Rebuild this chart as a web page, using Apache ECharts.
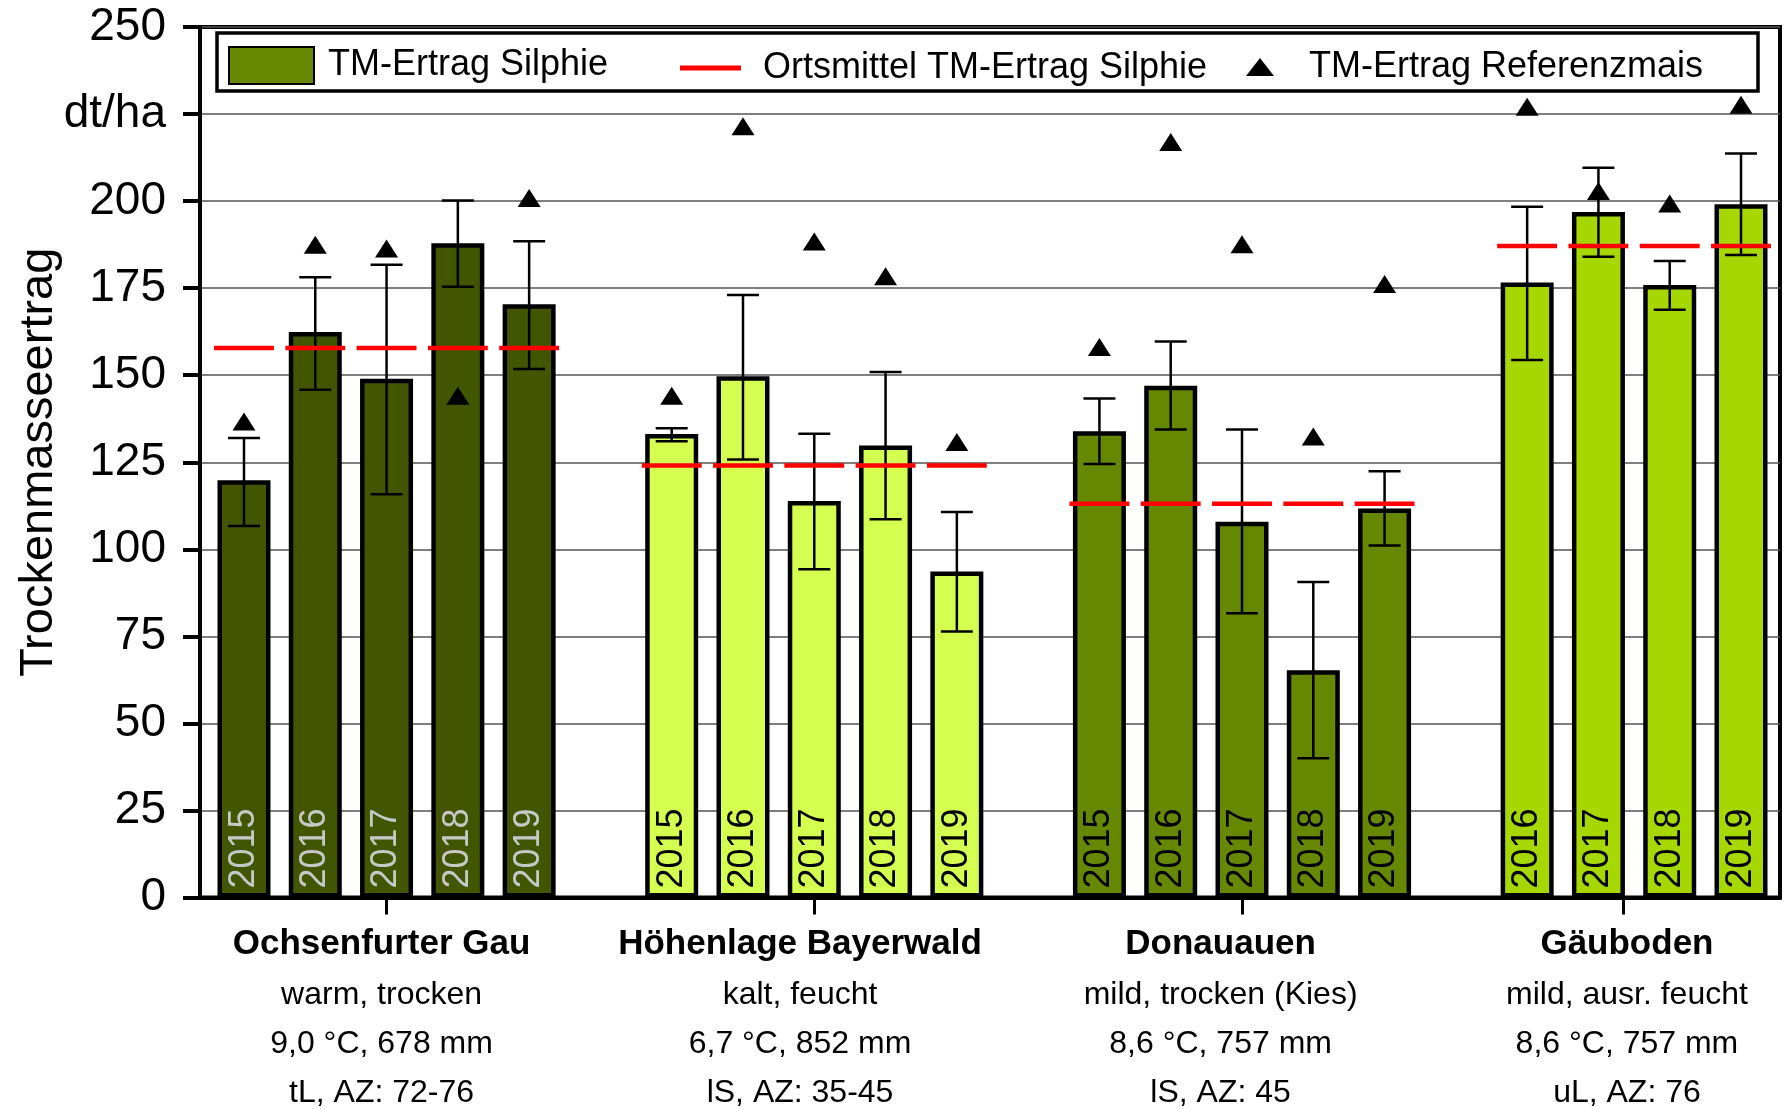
<!DOCTYPE html>
<html>
<head>
<meta charset="utf-8">
<script src="https://cdn.jsdelivr.net/npm/echarts@6/dist/echarts.min.js"></script>
<style>
  html, body { margin: 0; padding: 0; background: #fff; }
  #chart { width: 1786px; height: 1109px; }
</style>
</head>
<body>
<div id="chart"></div>
<script>
// Standorte und Beschriftung
var standorte = ['Ochsenfurter Gau', 'Höhenlage Bayerwald', 'Donauauen', 'Gäuboden'];
var klima = ['warm, trocken', 'kalt, feucht', 'mild, trocken (Kies)', 'mild, ausr. feucht'];
var wetter = ['9,0 °C, 678 mm', '6,7 °C, 852 mm', '8,6 °C, 757 mm', '8,6 °C, 757 mm'];
var boden = ['tL, AZ: 72-76', 'lS, AZ: 35-45', 'lS, AZ: 45', 'uL, AZ: 76'];

var jahre = [
    [2015, 2016, 2017, 2018, 2019],
    [2015, 2016, 2017, 2018, 2019],
    [2015, 2016, 2017, 2018, 2019],
    [2016, 2017, 2018, 2019]
];

// TM-Ertrag Silphie (dt/ha)
var silphie = [
    [119.8, 162.4, 149.0, 187.9, 170.4],
    [133.1, 149.7, 113.9, 129.8, 93.6],
    [133.9, 147.0, 107.9, 65.3, 111.7],
    [176.6, 196.9, 175.9, 199.1]
];
// Fehlerbalken
var fehlerUnten = [
    [106.7, 145.8, 115.8, 175.4, 151.8],
    [131.0, 125.8, 94.3, 108.6, 76.4],
    [124.5, 134.4, 81.6, 40.0, 101.1],
    [154.4, 184.0, 168.8, 184.5]
];
var fehlerOben = [
    [132.0, 178.1, 181.7, 200.2, 188.5],
    [134.8, 173.0, 133.2, 150.9, 110.7],
    [143.3, 159.7, 134.4, 90.6, 122.4],
    [198.4, 209.6, 182.8, 213.7]
];
// TM-Ertrag Referenzmais
var mais = [
    [136.7, 187.5, 186.4, 144.1, 200.9],
    [144.1, 221.5, 188.4, 178.4, 130.8],
    [158.1, 217.0, 187.6, 132.4, 176.2],
    [227.1, 202.9, 199.3, 227.7]
];
// Ortsmittel TM-Ertrag Silphie
var ortsmittel = [157.8, 124.1, 113.1, 187.1];

var barColors = ['#445500', '#d4ff50', '#668800', '#a6d800'];
var yearColors = ['#c8c8c8', '#000', '#000', '#000'];
var font = '"Liberation Sans", Arial, sans-serif';

// Positionen: jede Gruppe nebeneinander, eine Lücke dazwischen
var barData = [], errData = [], meanData = [], maisData = [], yearLabels = [];
var pos = 0;
standorte.forEach(function (s, g) {
    silphie[g].forEach(function (v, j) {
        barData.push({ value: [pos, v], itemStyle: { color: barColors[g] }, label: { color: yearColors[g] } });
        errData.push([pos, fehlerUnten[g][j], fehlerOben[g][j]]);
        meanData.push([pos, ortsmittel[g]]);
        maisData.push([pos, mais[g][j]]);
        yearLabels.push(jahre[g][j]);
        pos++;
    });
    pos++;
});

var tickPos = [2, 8, 14, 19.35];
var labelPos = [1.93, 7.8, 13.7, 19.4];

var myChart = echarts.init(document.getElementById('chart'), null, { renderer: 'canvas' });

var option = {
    animation: false,
    textStyle: { fontFamily: font },
    grid: {
        left: 200, right: 6, top: 27, bottom: 209,
        show: true, borderColor: '#000', borderWidth: 4
    },
    graphic: [{
        type: 'rect',
        shape: { x: 217, y: 33, width: 1541, height: 58 },
        style: { fill: '#fff', stroke: '#000', lineWidth: 3.5 },
        z: 90
    }],
    legend: [
        {
            data: [{ name: 'TM-Ertrag Silphie', icon: 'rect' }],
            left: 228, top: 46, padding: 0,
            itemWidth: 85, itemHeight: 37,
            textStyle: { fontSize: 36, color: '#000', fontFamily: font, padding: [0, 0, 0, 9] },
            z: 100
        },
        {
            data: [{ name: 'Ortsmittel TM-Ertrag Silphie', icon: 'rect' }],
            left: 680, top: 50, padding: 0,
            itemWidth: 61, itemHeight: 5,
            textStyle: { fontSize: 36, color: '#000', fontFamily: font, padding: [0, 0, 0, 17] },
            z: 100
        },
        {
            data: [{ name: 'TM-Ertrag Referenzmais', icon: 'triangle' }],
            left: 1246, top: 49, padding: 0,
            itemWidth: 28, itemHeight: 18,
            itemStyle: { opacity: 1 },
            textStyle: { fontSize: 36, color: '#000', fontFamily: font, padding: [0, 0, 0, 30] },
            z: 100
        }
    ],
    xAxis: {
        type: 'value',
        min: -0.617,
        max: 21.547,
        axisLine: { show: true, onZero: false, lineStyle: { color: '#000', width: 4 } },
        axisTick: { show: true, customValues: tickPos, length: 17, lineStyle: { color: '#000', width: 3 } },
        axisLabel: {
            customValues: labelPos,
            margin: 21,
            formatter: function (v) {
                var i = 0;
                labelPos.forEach(function (p, k) { if (Math.abs(p - v) < 0.01) i = k; });
                return '{b|' + standorte[i] + '}\n{n|' + klima[i] + '}\n{n|' + wetter[i] + '}\n{n|' + boden[i] + '}';
            },
            rich: {
                b: { fontSize: 35, fontWeight: 'bold', color: '#000', fontFamily: font, lineHeight: 52 },
                n: { fontSize: 32, color: '#000', fontFamily: font, lineHeight: 49 }
            }
        },
        splitLine: { show: false }
    },
    yAxis: {
        type: 'value',
        min: 0,
        max: 250,
        interval: 25,
        name: 'Trockenmasseertrag',
        nameLocation: 'middle',
        nameGap: 137,
        nameMoveOverlap: false,
        nameTextStyle: { fontSize: 47, color: '#000', fontFamily: font },
        axisLine: { show: true, onZero: false, lineStyle: { color: '#000', width: 4 } },
        axisTick: { show: true, length: 17, lineStyle: { color: '#000', width: 4 } },
        axisLabel: {
            fontSize: 46, color: '#000', margin: 34, fontFamily: font,
            formatter: function (v) { return v === 225 ? 'dt/ha' : v; }
        },
        splitLine: { show: true, lineStyle: { color: '#555', width: 1.5 } }
    },
    series: [
        {
            name: 'TM-Ertrag Silphie',
            type: 'bar',
            barWidth: 53,
            itemStyle: { color: '#668800', borderColor: '#000', borderWidth: 4.5 },
            label: {
                show: true,
                position: 'insideBottom',
                rotate: 90,
                align: 'left',
                verticalAlign: 'middle',
                distance: 9,
                fontSize: 36,
                fontFamily: font,
                formatter: function (p) { return yearLabels[p.dataIndex]; }
            },
            data: barData,
            z: 2
        },
        {
            name: 'Fehler',
            type: 'custom',
            encode: { x: 0, y: [1, 2] },
            renderItem: function (params, api) {
                var x = api.value(0);
                var lo = api.coord([x, api.value(1)]);
                var hi = api.coord([x, api.value(2)]);
                var cap = 16;
                var style = { stroke: '#000', lineWidth: 2.5 };
                return {
                    type: 'group',
                    children: [
                        { type: 'line', shape: { x1: lo[0], y1: lo[1], x2: hi[0], y2: hi[1] }, style: style },
                        { type: 'line', shape: { x1: lo[0] - cap, y1: lo[1], x2: lo[0] + cap, y2: lo[1] }, style: style },
                        { type: 'line', shape: { x1: hi[0] - cap, y1: hi[1], x2: hi[0] + cap, y2: hi[1] }, style: style }
                    ]
                };
            },
            data: errData,
            z: 3
        },
        {
            name: 'Ortsmittel TM-Ertrag Silphie',
            type: 'custom',
            itemStyle: { color: '#ff0000' },
            renderItem: function (params, api) {
                var a = api.coord([api.value(0) - 0.42, api.value(1)]);
                var b = api.coord([api.value(0) + 0.42, api.value(1)]);
                return {
                    type: 'line',
                    shape: { x1: a[0], y1: a[1], x2: b[0], y2: b[1] },
                    style: { stroke: '#ff0000', lineWidth: 4.5 }
                };
            },
            data: meanData,
            z: 4
        },
        {
            name: 'TM-Ertrag Referenzmais',
            type: 'scatter',
            symbol: 'triangle',
            symbolSize: [23, 18],
            itemStyle: { color: '#000', opacity: 1 },
            data: maisData,
            z: 5
        }
    ]
};

myChart.setOption(option);
</script>
</body>
</html>
